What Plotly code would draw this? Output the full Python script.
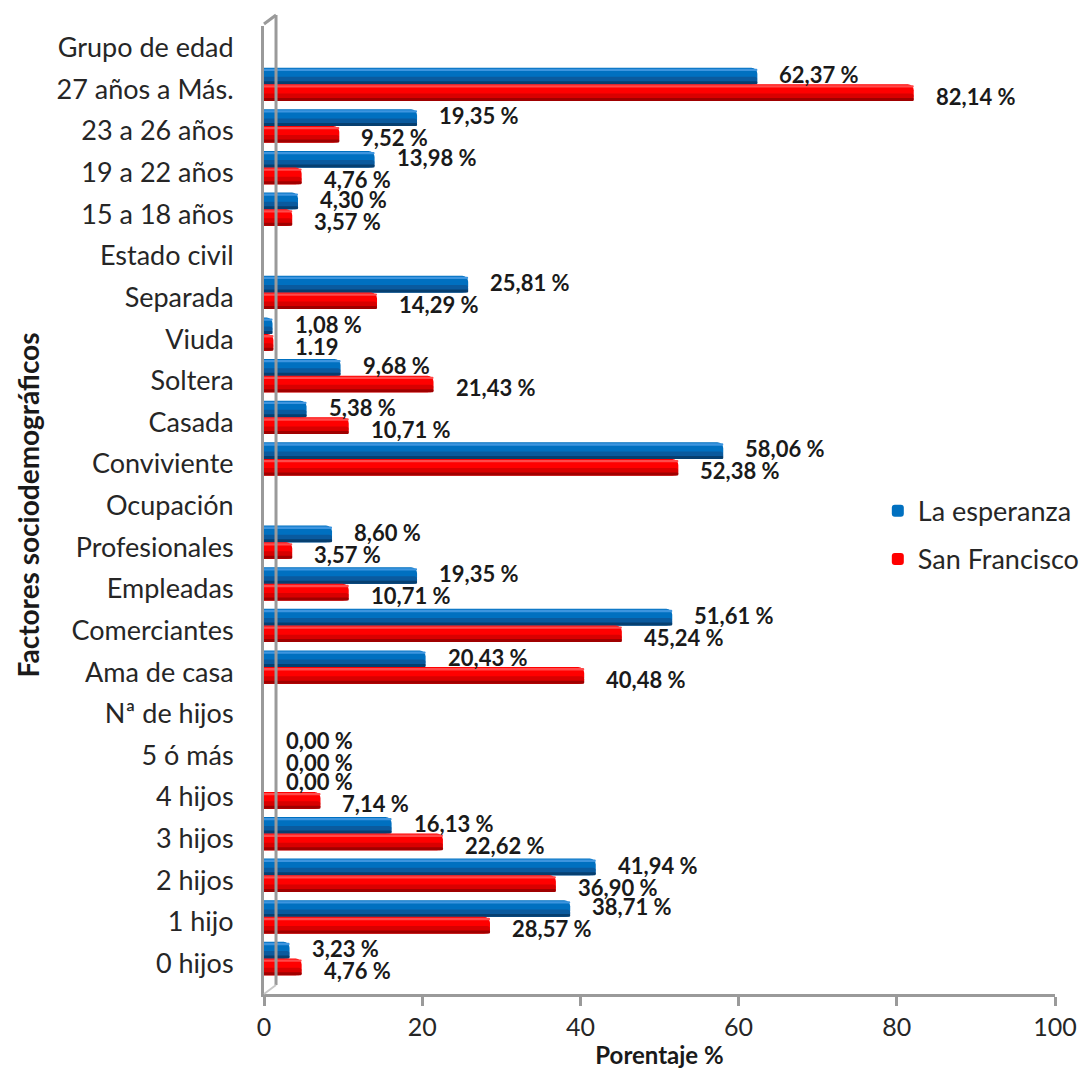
import plotly.graph_objects as go

# Categories, top to bottom (section headers carry no values)
categories = [
    "Grupo de edad", "27 años a Más.", "23 a 26 años", "19 a 22 años", "15 a 18 años",
    "Estado civil", "Separada", "Viuda", "Soltera", "Casada", "Conviviente",
    "Ocupación", "Profesionales", "Empleadas", "Comerciantes", "Ama de casa",
    "Nª de hijos", "5 ó más", "4 hijos", "3 hijos", "2 hijos", "1 hijo", "0 hijos",
]

la_esperanza = [
    None, 62.37, 19.35, 13.98, 4.30,
    None, 25.81, 1.08, 9.68, 5.38, 58.06,
    None, 8.60, 19.35, 51.61, 20.43,
    None, 0.00, 0.00, 16.13, 41.94, 38.71, 3.23,
]

san_francisco = [
    None, 82.14, 9.52, 4.76, 3.57,
    None, 14.29, 1.19, 21.43, 10.71, 52.38,
    None, 3.57, 10.71, 45.24, 40.48,
    None, 0.00, 7.14, 22.62, 36.90, 28.57, 4.76,
]

x_ticks = [0, 20, 40, 60, 80, 100]


def pct_label(v):
    return f"{v:.2f}".replace(".", ",") + " %"


labels_esp = [None if v is None else pct_label(v) for v in la_esperanza]
labels_sf = [None if v is None else pct_label(v) for v in san_francisco]
labels_sf[categories.index("Viuda")] = "1.19"

FONT = "Lato"
BAR_W = 0.40

# (name, values, labels, bar offset, shading colours, label yshift)
series = [
    ("La esperanza", la_esperanza, labels_esp, -0.52,
     ["#0070C0", "#0a5a9e", "#063f70", "#3d95df"], 15),
    ("San Francisco", san_francisco, labels_sf, -0.12,
     ["#FF0000", "#d80000", "#a00000", "#ff4a4a"], -7),
]

fig = go.Figure()

for name, vals, labs, off, cols, ysh in series:
    base_col, mid_dark, dark, light = cols
    # cylinder-like shading: body, darker lower half, darkest rim, top highlight
    layers = [
        (base_col, 0.0, BAR_W, True),
        (mid_dark, BAR_W * 0.55, BAR_W * 0.45, False),
        (dark, BAR_W * 0.82, BAR_W * 0.18, False),
        (light, BAR_W * 0.06, BAR_W * 0.14, False),
    ]
    for col, sub_off, thick, show in layers:
        fig.add_trace(go.Bar(
            y=categories, x=vals, orientation="h",
            name=name, legendgroup=name, showlegend=show,
            marker=dict(color=base_col if show else col, line=dict(width=0),
                        cornerradius=6),
            offset=off + sub_off, width=thick,
            hoverinfo="skip" if not show else None,
        ))
    # value labels
    for cat, v, t in zip(categories, vals, labs):
        if v is None:
            continue
        fig.add_annotation(
            x=v, y=cat, xref="x", yref="y", text=f"<b>{t}</b>",
            showarrow=False, xanchor="left", yanchor="middle",
            xshift=20, yshift=ysh,
            font=dict(family=FONT, size=22, color="#1a1a1a"),
        )

GRAY = "#9a9a9a"
# back wall edge of the 3D frame
wall_dx = 0.0152
fig.add_shape(type="line", xref="paper", yref="paper",
              x0=wall_dx, x1=wall_dx, y0=0.0093, y1=1.0114,
              line=dict(color=GRAY, width=3))
fig.add_shape(type="line", xref="paper", yref="paper",
              x0=0, x1=wall_dx, y0=1.002, y1=1.0114,
              line=dict(color=GRAY, width=3))
fig.add_shape(type="line", xref="paper", yref="paper",
              x0=0, x1=wall_dx, y0=0, y1=0.0093,
              line=dict(color="#c8c8c8", width=2))

fig.add_annotation(
    text="<b>Factores sociodemográficos</b>", xref="paper", yref="paper",
    x=-0.298, y=0.505, textangle=-90, showarrow=False,
    xanchor="center", yanchor="middle",
    font=dict(family=FONT, size=28, color="#1a1a1a"),
)

fig.update_layout(
    width=1092, height=1073,
    margin=dict(l=264, r=37, t=26, b=79, autoexpand=False),
    paper_bgcolor="white", plot_bgcolor="white",
    barmode="overlay",
    font=dict(family=FONT, color="#262626"),
    showlegend=True,
    legend=dict(
        x=0.776, y=0.524, xanchor="left", yanchor="top",
        font=dict(family=FONT, size=27, color="#262626"),
        tracegroupgap=10, bgcolor="rgba(0,0,0,0)",
    ),
    xaxis=dict(
        range=[0, 100], tickvals=x_ticks, ticktext=[str(t) for t in x_ticks],
        showgrid=False, zeroline=False,
        showline=True, linecolor=GRAY, linewidth=3,
        ticks="outside", ticklen=9, tickwidth=3, tickcolor=GRAY,
        tickfont=dict(family=FONT, size=25, color="#262626"),
        title=dict(text="<b>Porentaje %</b>", standoff=8,
                   font=dict(family=FONT, size=24, color="#1a1a1a")),
    ),
    yaxis=dict(
        categoryorder="array", categoryarray=categories, autorange="reversed",
        showgrid=False, zeroline=False,
        showline=True, linecolor=GRAY, linewidth=3,
        ticks="", ticklabelstandoff=22,
        tickfont=dict(family=FONT, size=27, color="#262626"),
    ),
)

fig.write_html("out.html")
